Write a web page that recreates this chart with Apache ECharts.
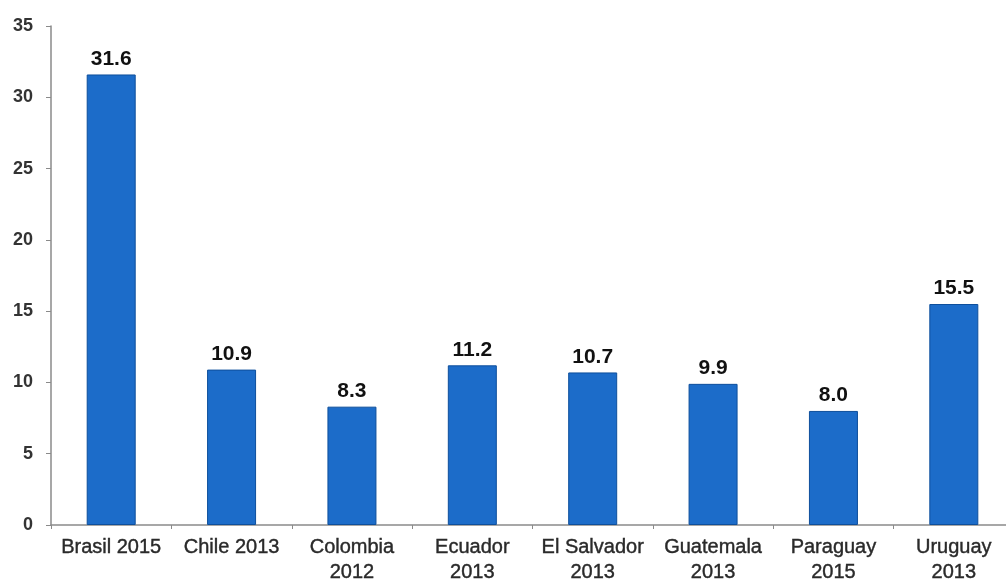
<!DOCTYPE html>
<html>
<head>
<meta charset="utf-8">
<script src="https://cdn.jsdelivr.net/npm/echarts@6/dist/echarts.min.js"></script>
<style>
  html, body { margin: 0; padding: 0; background: #fff; }
  #chart { width: 1006px; height: 579px; }
</style>
</head>
<body>
<div id="chart"></div>
<script>
// Categories (country and survey year) and their values
const categories = ['Brasil 2015', 'Chile 2013', 'Colombia\n2012', 'Ecuador\n2013',
  'El Salvador\n2013', 'Guatemala\n2013', 'Paraguay\n2015', 'Uruguay\n2013'];
const values = [31.6, 10.9, 8.3, 11.2, 10.7, 9.9, 8.0, 15.5];
const yTicks = [0, 5, 10, 15, 20, 25, 30, 35];

const FONT = 'Liberation Sans, Arial, sans-serif';

const chart = echarts.init(document.getElementById('chart'));
chart.setOption({
  animation: false,
  grid: { left: 51, top: 26, bottom: 54, width: 963, outerBoundsMode: 'none', containLabel: false },
  xAxis: {
    type: 'category',
    data: categories,
    axisLine: { lineStyle: { color: '#8a8a8a', width: 1.5 } },
    axisTick: { show: true, length: 4, lineStyle: { color: '#8a8a8a' } },
    axisLabel: {
      color: '#2a2a2a', fontFamily: FONT,
      fontSize: 20, lineHeight: 25, margin: 10, interval: 0,
      textBorderColor: '#2a2a2a', textBorderWidth: 0.4
    }
  },
  yAxis: {
    type: 'value',
    min: yTicks[0], max: yTicks[yTicks.length - 1], interval: 5,
    axisLine: { show: true, lineStyle: { color: '#8a8a8a', width: 1.5 } },
    axisTick: { show: true, length: 5, lineStyle: { color: '#8a8a8a' } },
    splitLine: { show: false },
    axisLabel: {
      color: '#333', fontFamily: FONT,
      fontSize: 18, fontWeight: 'bold', margin: 18
    }
  },
  series: [{
    type: 'bar',
    data: values,
    barWidth: 49,
    itemStyle: { color: '#1c6cc9', borderColor: '#0e4f9c', borderWidth: 1 },
    label: {
      show: true, position: 'top', distance: 5,
      color: '#111', fontFamily: FONT,
      fontSize: 21, fontWeight: 'bold',
      formatter: p => p.value.toFixed(1)
    }
  }]
});
</script>
</body>
</html>
